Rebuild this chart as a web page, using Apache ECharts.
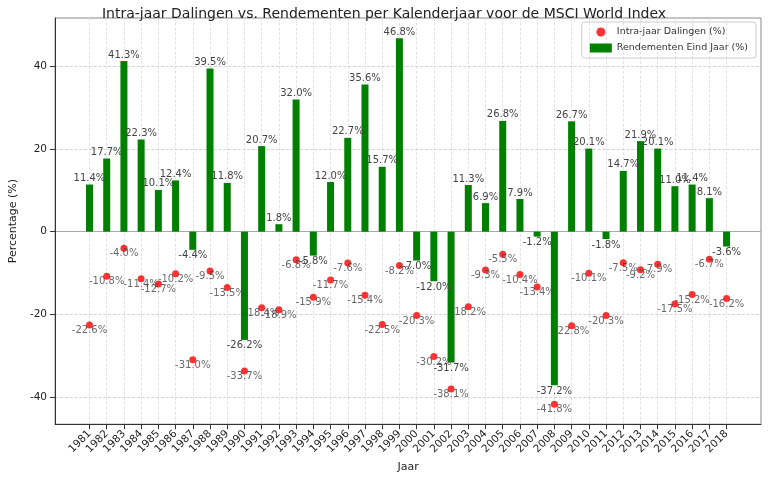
<!DOCTYPE html>
<html><head><meta charset="utf-8">
<script src="https://cdn.jsdelivr.net/npm/echarts@6/dist/echarts.min.js"></script>
<style>html,body{margin:0;padding:0;background:#fff}#c{width:768px;height:478px}</style>
</head><body><div id="c"></div>
<script>
const years = [1981,1982,1983,1984,1985,1986,1987,1988,1989,1990,1991,1992,1993,1994,1995,1996,1997,1998,1999,2000,2001,2002,2003,2004,2005,2006,2007,2008,2009,2010,2011,2012,2013,2014,2015,2016,2017,2018];
const returns = [11.4,17.7,41.3,22.3,10.1,12.4,-4.4,39.5,11.8,-26.2,20.7,1.8,32.0,-5.8,12.0,22.7,35.6,15.7,46.8,-7.0,-12.0,-31.7,11.3,6.9,26.8,7.9,-1.2,-37.2,26.7,20.1,-1.8,14.7,21.9,20.1,11.0,11.4,8.1,-3.6];
const drawdowns = [-22.6,-10.8,-4.0,-11.4,-12.7,-10.2,-31.0,-9.5,-13.5,-33.7,-18.4,-18.9,-6.8,-15.9,-11.7,-7.6,-15.4,-22.5,-8.2,-20.3,-30.2,-38.1,-18.2,-9.3,-5.5,-10.4,-13.4,-41.8,-22.8,-10.1,-20.3,-7.5,-9.2,-7.9,-17.5,-15.2,-6.7,-16.2];
const yTicks = [-40,-20,0,20,40];

const lbl = {color:'#444', fontSize:10, fontFamily:'DejaVu Sans'};
const chart = echarts.init(document.getElementById('c'));
chart.setOption({
  animation:false,
  textStyle:{fontFamily:'DejaVu Sans'},
  title:{text:'Intra-jaar Dalingen vs. Rendementen per Kalenderjaar voor de MSCI World Index',left:'center',top:2,textStyle:{fontSize:14,fontWeight:'normal',color:'#222'}},
  legend:{right:12,top:22,orient:'vertical',itemGap:6,borderColor:'#ccc',borderWidth:1,borderRadius:3,padding:[5,8],
    textStyle:{fontSize:9.5,color:'#333'},
    data:[{name:'Intra-jaar Dalingen (%)',icon:'circle',itemStyle:{color:'red'}},{name:'Rendementen Eind Jaar (%)',icon:'rect'}],itemWidth:22,itemHeight:9},
  grid:{left:47,right:7,top:18,bottom:51,show:true,borderColor:'#888',borderWidth:1},
  xAxis:{type:'value',min:1979,max:2020,interval:1,name:'Jaar',nameLocation:'middle',nameGap:36,nameTextStyle:{fontSize:11,color:'#222'},
    axisLine:{onZero:false,lineStyle:{color:'#333'}},axisTick:{lineStyle:{color:'#333'},customValues:years},splitLine:{show:false},
    axisLabel:{rotate:45,fontSize:10.5,color:'#222',customValues:years,formatter:v=>String(v)}},
  yAxis:{type:'value',min:-46.6,max:51.7,name:'Percentage (%)',nameLocation:'middle',nameGap:28,nameTextStyle:{fontSize:11,color:'#222'},
    axisLine:{show:true,onZero:false,lineStyle:{color:'#333'}},axisTick:{show:true,customValues:yTicks},splitLine:{show:false},
    axisLabel:{fontSize:10.5,color:'#222',customValues:yTicks}},
  series:[
    {name:'grid',type:'scatter',data:[],z:0,silent:true,
     markLine:{silent:true,symbol:'none',label:{show:false},z:0,
       data:[...years.map(y=>({xAxis:y,lineStyle:{color:'#ddd',type:'dashed',width:0.8}})),
             ...yTicks.filter(t=>t!==0).map(t=>({yAxis:t,lineStyle:{color:'#ccc',type:'dashed',width:0.8}})),
             {yAxis:0,lineStyle:{color:'#aaa',type:'solid',width:1}}]}},
    {name:'Rendementen Eind Jaar (%)',type:'bar',barWidth:7,itemStyle:{color:'#008000'},
     data:years.map((y,i)=>({value:[y,returns[i]],label:{position:returns[i]<0?'bottom':'top'}})),
     label:{show:true,formatter:p=>p.value[1].toFixed(1)+'%',...lbl,distance:1},
     z:2},
    {name:'Intra-jaar Dalingen (%)',type:'scatter',symbolSize:7,itemStyle:{color:'red'},
     data:years.map((y,i)=>[y,drawdowns[i]]),
     label:{show:true,position:'bottom',distance:-3,formatter:p=>p.value[1].toFixed(1)+'%',...lbl},z:3}
  ]
});
</script></body></html>
